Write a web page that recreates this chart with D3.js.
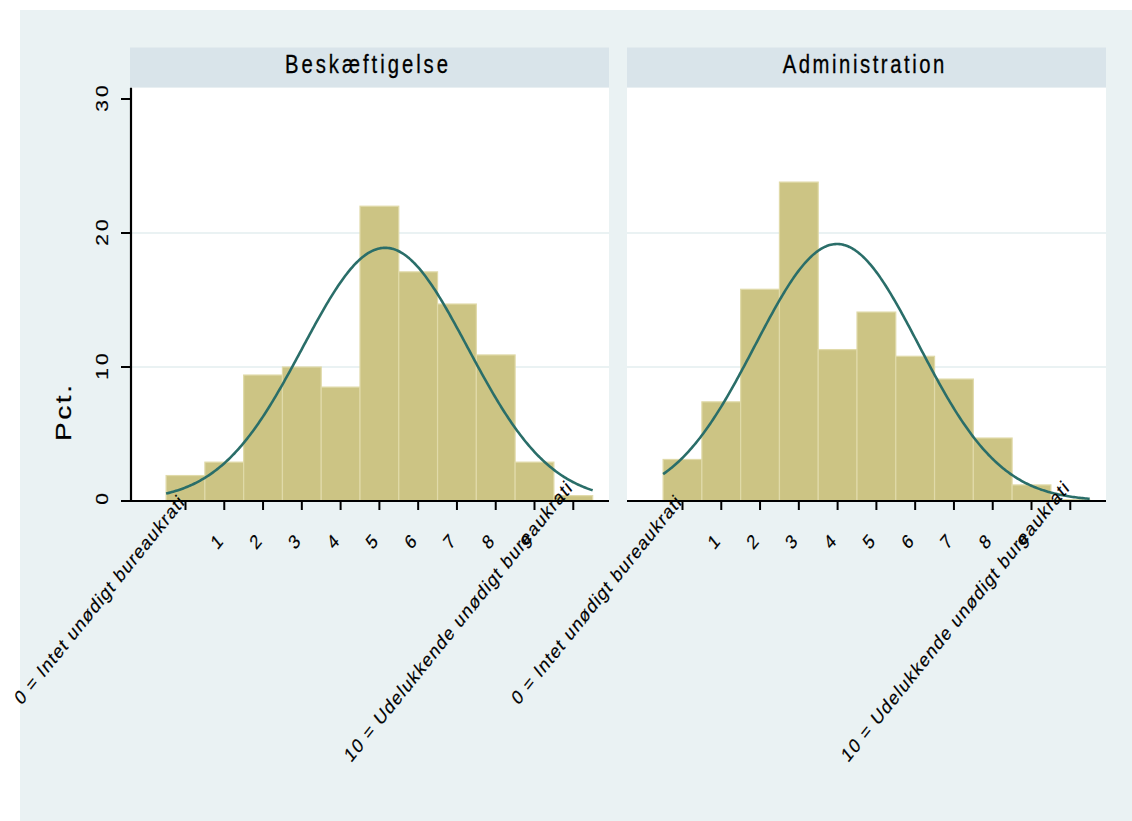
<!DOCTYPE html>
<html>
<head>
<meta charset="utf-8">
<script src="https://cdn.jsdelivr.net/npm/d3@7"></script>
<style>
  body { margin: 0; background: #ffffff; }
  svg { display: block; }
  text { font-family: "Liberation Sans", Arial, Helvetica, sans-serif; fill: #000; }
</style>
</head>
<body>
<svg id="chart" width="1132" height="821"></svg>
<script>
// Answer scale 0-10 and the share of respondents (pct.) giving each answer
const scores = [0, 1, 2, 3, 4, 5, 6, 7, 8, 9, 10];
const panelTitles = ["Beskæftigelse", "Administration"];
const pctBeskaeftigelse = [1.9, 2.9, 9.4, 10.0, 8.5, 22.0, 17.1, 14.7, 10.9, 2.9, 0.4];
const pctAdministration = [3.1, 7.4, 15.8, 23.8, 11.3, 14.1, 10.8, 9.1, 4.7, 1.2, 0.1];
const xTickLabels = [
  "0 = Intet unødigt bureaukrati", "1", "2", "3", "4", "5", "6", "7", "8", "9",
  "10 = Udelukkende unødigt bureaukrati"
];
const yTicks = [0, 10, 20, 30];
const yGrid = [10, 20];
const yTitle = "Pct.";

const panels = [
  { title: panelTitles[0], values: pctBeskaeftigelse },
  { title: panelTitles[1], values: pctAdministration }
];

// ---- layout ----
const W = 1132, H = 821;
const SX = 0.81;                 // horizontal condensing of all lettering
const panelLeft = [130, 627];
const panelW = 479;
const headerTop = 47.5, plotTop = 87.7, plotBottom = 501;

const svg = d3.select("#chart");
const svgRect = () => svg.node().getBoundingClientRect();

svg.append("rect").attr("x", 20).attr("y", 10).attr("width", W - 20).attr("height", H - 10)
  .attr("fill", "#eaf2f3");

const x = d3.scaleLinear().domain([-1.431, 10.921]).range([0, panelW]);
const y = d3.scaleLinear().domain([0, 30]).range([plotBottom, 99]);

const line = d3.line().x(d => x(d[0])).y(d => y(d[1])).curve(d3.curveLinear);

// text helper: condensed glyphs, optional rotation and forced length
function addText(g, str, px, py, o = {}) {
  const t = g.append("text").text(str)
    .attr("font-size", o.size || 18)
    .attr("text-anchor", o.anchor || "middle")
    .attr("transform", `translate(${px},${py}) scale(${SX},1) rotate(${o.rot || 0})`);
  if (o.baseline) t.attr("dominant-baseline", o.baseline);
  if (o.len) t.attr("textLength", o.len).attr("lengthAdjust", "spacing");
  if (o.ls) t.attr("letter-spacing", o.ls);
  if (o.stroke) t.attr("stroke", "#000").attr("stroke-width", o.stroke);
  return t;
}

panels.forEach((p, k) => {
  const g = svg.append("g").attr("transform", `translate(${panelLeft[k]},0)`);

  // strip title
  g.append("rect").attr("x", 0).attr("y", headerTop).attr("width", panelW)
    .attr("height", plotTop - headerTop).attr("fill", "#d9e4ea");
  addText(g, p.title, panelW / 2 - 3, 73.3, { size: 25, len: (k === 0 ? 163 : 161.6) / SX, stroke: 0.3 });

  // plot region
  g.append("rect").attr("x", 0).attr("y", plotTop).attr("width", panelW)
    .attr("height", plotBottom - plotTop).attr("fill", "#ffffff");

  g.selectAll("line.grid").data(yGrid).join("line").attr("class", "grid")
    .attr("x1", 0).attr("x2", panelW).attr("y1", d => y(d)).attr("y2", d => y(d))
    .attr("stroke", "#eaf2f3").attr("stroke-width", 2);

  // histogram bars
  g.selectAll("rect.bar").data(scores).join("rect").attr("class", "bar")
    .attr("x", d => x(d - 0.5))
    .attr("width", d => x(d + 0.5) - x(d - 0.5))
    .attr("y", (d, i) => y(p.values[i]))
    .attr("height", (d, i) => y(0) - y(p.values[i]))
    .attr("fill", "#ccc484").attr("stroke", "#e0daa9").attr("stroke-width", 1.2);

  // normal density with the mean and sd of the distribution, in pct. units
  const total = d3.sum(p.values);
  const mean = d3.sum(scores, (s, i) => s * p.values[i]) / total;
  const sd = Math.sqrt(d3.sum(scores, (s, i) => (s - mean) ** 2 * p.values[i]) / total);
  const lo = scores[0] - 0.5, hi = scores[scores.length - 1] + 0.5;
  const curve = d3.range(0, 301).map(j => {
    const v = lo + (hi - lo) * j / 300;
    const z = (v - mean) / sd;
    return [v, total * Math.exp(-0.5 * z * z) / (sd * Math.sqrt(2 * Math.PI))];
  });
  g.append("path").datum(curve).attr("d", line)
    .attr("fill", "none").attr("stroke", "#2a6e69").attr("stroke-width", 2.6)
    .attr("stroke-linejoin", "round");

  // x axis
  g.append("line").attr("x1", 0).attr("x2", panelW).attr("y1", plotBottom).attr("y2", plotBottom)
    .attr("stroke", "#000").attr("stroke-width", 2.2);
  g.selectAll("line.xtick").data(scores).join("line").attr("class", "xtick")
    .attr("x1", d => x(d)).attr("x2", d => x(d)).attr("y1", plotBottom).attr("y2", plotBottom + 9)
    .attr("stroke", "#000").attr("stroke-width", 2);

  // slanted tick labels, centred by their bounding box
  const r0 = svgRect();
  scores.forEach((s, i) => {
    const str = xTickLabels[i];
    const long = str.length > 2;
    const t = addText(g, str, 0, 0, {
      size: 20, rot: -45, baseline: "central", stroke: 0.2,
      len: long ? (i === 0 ? 286 : 387) : null
    });
    const b = t.node().getBoundingClientRect();
    const gx = panelLeft[k];
    const bcx = b.left - r0.left + b.width / 2 - gx;
    const bcy = b.top - r0.top + b.height / 2;
    const cx = x(s) + 2 - b.width / 2;
    const cy = 535 + 0.3 * b.height;
    t.attr("transform", `translate(${cx - bcx},${cy - bcy}) scale(${SX},1) rotate(-45)`);
  });

  // y axis on the first panel only
  if (k === 0) {
    g.append("line").attr("x1", 1).attr("x2", 1).attr("y1", plotTop).attr("y2", plotBottom + 1)
      .attr("stroke", "#000").attr("stroke-width", 2.2);
    g.selectAll("line.ytick").data(yTicks).join("line").attr("class", "ytick")
      .attr("x1", -9).attr("x2", 1).attr("y1", d => y(d)).attr("y2", d => y(d))
      .attr("stroke", "#000").attr("stroke-width", 2);
    yTicks.forEach(v => {
      addText(g, String(v), -27.5, y(v) - 2, { size: 21, rot: -90, baseline: "central", ls: v ? 3 : 0, stroke: 0.2 });
    });
    addText(g, yTitle, -66.7, 413, { size: 28, rot: -90, baseline: "central", len: 56, stroke: 0.3 });
  }
});
</script>
</body>
</html>
